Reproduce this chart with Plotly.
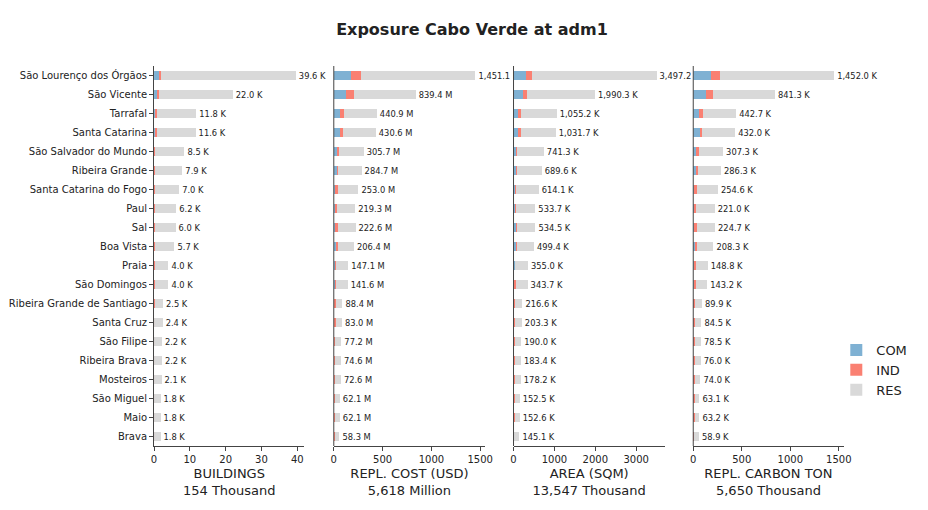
import plotly.graph_objects as go

regions = ["São Lourenço dos Órgãos","São Vicente","Tarrafal","Santa Catarina","São Salvador do Mundo",
 "Ribeira Grande","Santa Catarina do Fogo","Paul","Sal","Boa Vista","Praia","São Domingos",
 "Ribeira Grande de Santiago","Santa Cruz","São Filipe","Ribeira Brava","Mosteiros","São Miguel","Maio","Brava"]

bld_total = [39.6,22.0,11.8,11.6,8.5,7.9,7.0,6.2,6.0,5.7,4.0,4.0,2.5,2.4,2.2,2.2,2.1,1.8,1.8,1.8]
bld_com = [1.5,1.0,0.4,0.4,0.2,0.2,0.1,0.1,0.1,0.1,0.1,0.1,0.05,0.05,0.05,0.05,0.05,0.05,0.05,0.05]
bld_ind = [0.5,0.4,0.3,0.3,0.2,0.2,0.2,0.1,0.3,0.1,0.1,0.1,0.1,0.05,0.05,0.05,0.05,0.05,0.05,0.05]

cost_total = [1451.1,839.4,440.9,430.6,305.7,284.7,253.0,219.3,222.6,206.4,147.1,141.6,88.4,83.0,77.2,74.6,72.6,62.1,62.1,58.3]
cost_com = [180,130,60,65,35,40,20,15,20,25,20,20,5,10,10,10,10,10,10,5]
cost_ind = [100,75,40,25,20,8,20,15,20,15,5,5,15,10,5,3,3,5,5,3]

area_total = [3497.2,1990.3,1055.2,1031.7,741.3,689.6,614.1,533.7,534.5,499.4,355.0,343.7,216.6,203.3,190.0,183.4,178.2,152.5,152.6,145.1]
area_com = [300,230,100,110,60,60,40,40,50,50,30,20,10,20,20,20,20,15,15,10]
area_ind = [150,110,80,70,30,20,30,20,40,30,10,30,20,15,10,5,5,10,10,5]

carb_total = [1452.0,841.3,442.7,432.0,307.3,286.3,254.6,221.0,224.7,208.3,148.8,143.2,89.9,84.5,78.5,76.0,74.0,63.1,63.2,58.9]
carb_com = [180,130,60,65,35,40,20,15,20,25,20,20,5,10,10,10,10,10,10,5]
carb_ind = [100,75,40,25,20,8,20,15,20,15,5,5,15,10,5,3,3,5,5,3]

panels = [
 (bld_com,bld_ind,bld_total," K",[0,42],[0,10,20,30,40],"BUILDINGS<br>154 Thousand"),
 (cost_com,cost_ind,cost_total," M",[0,1550],[0,500,1000,1500],"REPL. COST (USD)<br>5,618 Million"),
 (area_com,area_ind,area_total," K",[0,3700],[0,1000,2000,3000],"AREA (SQM)<br>13,547 Thousand"),
 (carb_com,carb_ind,carb_total," K",[0,1550],[0,500,1000,1500],"REPL. CARBON TON<br>5,650 Thousand"),
]
domains = [(0.156,0.320),(0.352,0.517),(0.548,0.713),(0.744,0.908)]
colors = {"COM":"#7fb1d3","IND":"#fa8072","RES":"#d9d9d9"}

fig = go.Figure()
for i,(com,ind,tot,suf,rng,tv,title) in enumerate(panels):
    xa = "x" if i==0 else f"x{i+1}"
    res = [t-c-d for t,c,d in zip(tot,com,ind)]
    texts = [f"{t:,.1f}{suf}" for t in tot]
    for name,vals in (("COM",com),("IND",ind),("RES",res)):
        fig.add_trace(go.Bar(y=regions,x=vals,orientation="h",name=name,marker_color=colors[name],
            marker_line_width=0,width=0.5,xaxis=xa,yaxis="y",showlegend=(i==0),legendgroup=name,
            text=texts if name=="RES" else None,textposition="outside" if name=="RES" else "none",
            textfont=dict(size=10.5,color="#222"),cliponaxis=False,hoverinfo="x+y"))
    key = "xaxis" if i==0 else f"xaxis{i+1}"
    fig.layout[key] = dict(domain=list(domains[i]),range=rng,tickvals=tv,anchor="y" if i==0 else "free",
        position=0.0 if i else None,showline=True,linecolor="#444",ticks="outside",ticklen=4,
        tickfont=dict(size=10),showgrid=False,zeroline=False,
        title=dict(text=title,font=dict(size=13),standoff=4))

for i in range(1,4):
    fig.add_shape(type="line",xref="paper",yref="paper",x0=domains[i][0],x1=domains[i][0],y0=0,y1=1,
                  line=dict(color="#444",width=1))

fig.update_layout(
    width=928,height=510,barmode="stack",bargap=0.5,plot_bgcolor="white",paper_bgcolor="white",
    font=dict(family="DejaVu Sans",color="#222"),
    title=dict(text="<b>Exposure Cabo Verde at adm1</b>",x=0.5,y=0.97,font=dict(size=16)),
    margin=dict(l=0,r=0,t=58,b=72),
    yaxis=dict(domain=[0,1],autorange="reversed",showline=True,linecolor="#444",ticks="outside",ticklen=4,
               tickfont=dict(size=10),range=[19.6,-0.6]),
    legend=dict(x=0.9,y=0.2,xanchor="left",yanchor="middle",traceorder="normal",font=dict(size=13)),
    showlegend=True,
)
fig.write_html("out.html")
